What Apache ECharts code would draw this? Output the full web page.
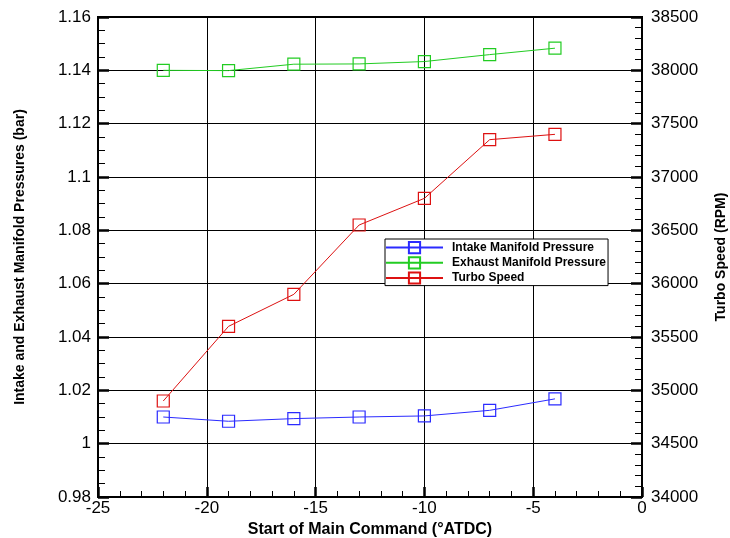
<!DOCTYPE html>
<html>
<head>
<meta charset="utf-8">
<script src="https://cdn.jsdelivr.net/npm/echarts@6/dist/echarts.min.js"></script>
<style>
  html, body { margin: 0; padding: 0; background: #fff; }
  #chart { width: 730px; height: 538px; }
</style>
</head>
<body>
<div id="chart"></div>
<script>
// start of main command (deg ATDC)
let somc = [-22, -19, -16, -13, -10, -7, -4]
// pressures (bar)
let intakeP = [1.010, 1.0084, 1.0094, 1.0100, 1.0104, 1.0125, 1.0168]
let exhaustP = [1.1400, 1.1399, 1.1423, 1.1424, 1.1433, 1.1459, 1.1483]
// turbo speed (RPM)
let turboRpm = [34900, 35600, 35900, 36550, 36800, 37350, 37400]

const FONT = '"Liberation Sans", Arial, sans-serif'

function pairs (xs, ys) {
  return xs.map((x, i) => [x, ys[i]])
}

function mkSeries (name, color, data, yIdx) {
  return {
    name: name,
    type: 'line',
    yAxisIndex: yIdx,
    data: data,
    symbol: 'rect',
    symbolSize: 12,
    lineStyle: { color: color, width: 1 },
    itemStyle: { color: 'rgba(0,0,0,0)', borderColor: color, borderWidth: 1.2 },
    emphasis: { disabled: true },
    animation: false
  }
}

let myChart = echarts.init(document.getElementById('chart'))
myChart.setOption({
  backgroundColor: '#fff',
  grid: {
    left: 98, right: 88, top: 17, bottom: 41,
    outerBoundsMode: 'none',
    containLabel: false,
    show: true, borderColor: '#000', borderWidth: 2
  },
  legend: {
    orient: 'vertical',
    left: 385,
    top: 239,
    itemWidth: 57,
    itemHeight: 14,
    itemGap: 2,
    padding: [2, 2, 1, 0],
    backgroundColor: '#fff',
    borderColor: '#000',
    borderWidth: 1,
    borderRadius: 0,
    textStyle: { fontFamily: FONT, fontWeight: 'bold', fontSize: 12, color: '#000', padding: [0, 0, 0, 4] },
    data: ['Intake Manifold Pressure', 'Exhaust Manifold Pressure', 'Turbo Speed']
  },
  xAxis: {
    type: 'value',
    min: -25,
    max: 0,
    interval: 5,
    name: 'Start of Main Command (°ATDC)',
    nameLocation: 'middle',
    nameGap: 19,
    nameTextStyle: { fontFamily: FONT, fontWeight: 'bold', fontSize: 16, color: '#000' },
    axisLine: { onZero: false, lineStyle: { color: '#000', width: 2 } },
    axisTick: { inside: true, length: 10, lineStyle: { color: '#000', width: 2.5 } },
    minorTick: { show: true, splitNumber: 5, length: 6, lineStyle: { color: '#000', width: 1 } },
    axisLabel: { fontFamily: FONT, fontSize: 17, color: '#000', margin: 3 },
    splitLine: { show: true, lineStyle: { color: '#000', width: 1 } }
  },
  yAxis: [
    {
      type: 'value',
      min: 0.98,
      max: 1.16,
      interval: 0.02,
      name: 'Intake and Exhaust Manifold Pressures (bar)',
      nameLocation: 'middle',
      nameRotate: 90,
      nameGap: 71,
      nameTextStyle: { fontFamily: FONT, fontWeight: 'bold', fontSize: 14, color: '#000' },
      axisLine: { onZero: false, lineStyle: { color: '#000', width: 2 } },
      axisTick: { inside: true, length: 11, lineStyle: { color: '#000', width: 2.5 } },
      minorTick: { show: true, splitNumber: 4, length: 7, lineStyle: { color: '#000', width: 1 } },
      axisLabel: { fontFamily: FONT, fontSize: 17, color: '#000', margin: 7 },
      splitLine: { show: true, lineStyle: { color: '#000', width: 1 } }
    },
    {
      type: 'value',
      min: 34000,
      max: 38500,
      interval: 500,
      name: 'Turbo Speed (RPM)',
      nameLocation: 'middle',
      nameRotate: 90,
      nameGap: 72,
      nameTextStyle: { fontFamily: FONT, fontWeight: 'bold', fontSize: 14, color: '#000' },
      axisLine: { onZero: false, lineStyle: { color: '#000', width: 2 } },
      axisTick: { inside: true, length: 11, lineStyle: { color: '#000', width: 2.5 } },
      minorTick: { show: true, splitNumber: 5, length: 7, lineStyle: { color: '#000', width: 1 } },
      axisLabel: { fontFamily: FONT, fontSize: 17, color: '#000', margin: 9, formatter: v => String(v) },
      splitLine: { show: false }
    }
  ],
  series: [
    mkSeries('Intake Manifold Pressure', '#2b2bff', pairs(somc, intakeP), 0),
    mkSeries('Exhaust Manifold Pressure', '#22cc22', pairs(somc, exhaustP), 0),
    mkSeries('Turbo Speed', '#dd1111', pairs(somc, turboRpm), 1)
  ]
})
</script>
</body>
</html>
